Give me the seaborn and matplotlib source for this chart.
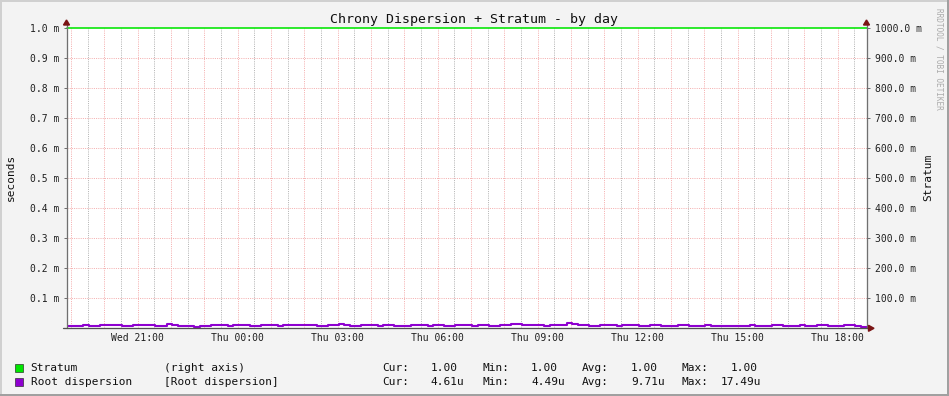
import numpy as np
import pandas as pd
import matplotlib
matplotlib.use("Agg")
import matplotlib.pyplot as plt
import matplotlib.dates as mdates
import seaborn as sns
from matplotlib.lines import Line2D
from matplotlib.patches import Rectangle, Polygon

# ---------------- data ----------------
title = "Chrony Dispersion + Stratum - by day"
start_time = "2024-01-03 18:52"   # a Wednesday
step_minutes = 10

# root dispersion, microseconds, one value per 10 minutes over 24 h
root_dispersion_us = [
    8.1, 6.9, 7.6, 9.8, 7.2, 6.5, 11.2, 9.4, 12.6, 10.1, 8.3, 7.0,
    11.8, 9.6, 12.4, 10.8, 8.7, 7.4, 12.9, 11.5, 9.2, 7.8, 6.1, 4.49,
    9.3, 8.6, 10.7, 12.1, 10.4, 9.0, 11.6, 12.3, 10.2, 8.8, 7.5, 11.4,
    12.0, 9.9, 8.4, 10.6, 11.3, 12.5, 9.7, 10.9, 12.2, 8.2, 7.1, 9.5,
    10.8, 12.7, 11.0, 9.1, 8.0, 10.3, 12.4, 9.8, 8.5, 10.6, 11.9, 9.2,
    7.7, 8.9, 11.5, 12.6, 10.0, 8.6, 10.4, 11.7, 9.3, 8.1, 10.9, 12.2,
    9.6, 8.4, 10.1, 11.8, 9.0, 7.9, 9.4, 10.6, 14.3, 12.8, 10.5, 9.7,
    11.2, 10.0, 8.8, 9.9, 11.4, 10.2, 17.49, 14.6, 12.1, 10.3, 9.1, 8.6,
    11.6, 10.7, 9.4, 8.2, 10.5, 11.8, 9.6, 8.3, 7.4, 10.1, 11.3, 9.0,
    8.1, 7.2, 9.8, 10.6, 8.7, 6.9, 9.3, 10.8, 8.5, 7.6, 6.8, 8.9,
    7.3, 6.4, 8.8, 9.5, 7.7, 6.2, 8.0, 9.7, 10.4, 8.6, 7.9, 9.2,
    10.3, 8.4, 7.1, 9.6, 10.7, 8.9, 7.5, 9.0, 10.2, 9.4, 8.3, 4.61,
]
# stratum, one reading per hour over 24 h
stratum = [1.0, 1.0, 1.0, 1.0, 1.0, 1.0, 1.0, 1.0, 1.0, 1.0, 1.0, 1.0, 1.0,
           1.0, 1.0, 1.0, 1.0, 1.0, 1.0, 1.0, 1.0, 1.0, 1.0, 1.0, 1.0]

left_ticks = [0.0001, 0.0002, 0.0003, 0.0004, 0.0005, 0.0006, 0.0007, 0.0008, 0.0009, 0.001]
right_ticks = [0.1, 0.2, 0.3, 0.4, 0.5, 0.6, 0.7, 0.8, 0.9, 1.0]
x_label_times = ["2024-01-03 21:00", "2024-01-04 00:00", "2024-01-04 03:00", "2024-01-04 06:00",
                 "2024-01-04 09:00", "2024-01-04 12:00", "2024-01-04 15:00", "2024-01-04 18:00"]

legend_rows = [
    ["Stratum", "(right axis)", "Cur:", "1.00", "Min:", "1.00", "Avg:", "1.00", "Max:", "1.00"],
    ["Root dispersion", "[Root dispersion]", "Cur:", "4.61u", "Min:", "4.49u", "Avg:", "9.71u", "Max:", "17.49u"],
]

# ---------------- style ----------------
W, H = 949, 396
sns.set_theme(style="white")
plt.rcParams["font.family"] = ["DejaVu Sans Mono", "DejaVu Sans"]
GREEN = "#00E600"
PURPLE = "#8E00D0"
AXIS = "#707070"
ARROW = "#7A1414"
RED_GRID = "#F4B0B0"
GREY_GRID = "#B4B4B4"
PX = 72 / 100.0


def fx(x):
    return x / W


def fy(y):
    return 1 - y / H


fig = plt.figure(figsize=(W / 100, H / 100), dpi=100, facecolor="#F3F3F3")
L, R, T, B = 66.5, 866.5, 28.3, 328.3
ax = fig.add_axes([fx(L), fy(B), (R - L) / W, (B - T) / H])
ax.set_facecolor("white")

start = pd.Timestamp(start_time)
end = start + pd.Timedelta(hours=24)

n = len(root_dispersion_us)
t_disp = start + pd.to_timedelta(np.arange(n + 1) * step_minutes, unit="min")
disp_vals = list(np.array(root_dispersion_us) * 1e-6) + [root_dispersion_us[-1] * 1e-6]
df_disp = pd.DataFrame({"time": t_disp, "seconds": disp_vals})

t_str = start + pd.to_timedelta(np.arange(len(stratum)), unit="h")
df_str = pd.DataFrame({"time": t_str, "stratum": stratum})

# grid
hours = pd.date_range(start.ceil("h"), end, freq="h")
halves = hours + pd.Timedelta(minutes=30)
gkw = dict(ls=(0, (1, 1.2)), lw=PX, zorder=1)
for t in halves:
    if t < end:
        ax.axvline(t, color=GREY_GRID, **gkw)
for t in hours:
    ax.axvline(t, color=RED_GRID, **gkw)
for v in left_ticks[:-1]:
    ax.axhline(v, color=RED_GRID, **gkw)

sns.lineplot(data=df_disp, x="time", y="seconds", ax=ax, color=PURPLE, lw=1.5,
             drawstyle="steps-post", estimator=None, zorder=5)
ax.set_xlim(start, end)
ax.set_ylim(0, 0.001)
ax.set_yticks(left_ticks)
ax.set_yticklabels([f"{v * 1000:.1f} m" for v in left_ticks])
ax.set_xticks([pd.Timestamp(s) for s in x_label_times])
ax.xaxis.set_major_formatter(mdates.DateFormatter("%a %H:%M"))
ax.set_xlabel("")
ax.set_ylabel("")
ax.tick_params(axis="y", length=3 * PX, width=PX, color=AXIS, pad=4 * PX, labelsize=7,
               labelcolor="#202020", left=True)
ax.tick_params(axis="x", length=0, pad=5 * PX, labelsize=7, labelcolor="#202020")
for s in ax.spines.values():
    s.set_visible(False)

ax2 = ax.twinx()
sns.lineplot(data=df_str, x="time", y="stratum", ax=ax2, color=GREEN, lw=1.6 * PX,
             estimator=None, zorder=6, clip_on=False)
ax2.set_ylim(0, 1)
ax2.set_xlim(start, end)
ax2.set_yticks(right_ticks)
ax2.set_yticklabels([f"{v * 1000:.1f} m" for v in right_ticks])
ax2.set_ylabel("")
ax2.tick_params(axis="y", length=3 * PX, width=PX, color=AXIS, pad=5 * PX, labelsize=7,
                labelcolor="#202020", right=True)
for s in ax2.spines.values():
    s.set_visible(False)

# axis lines and arrows (figure pixel coords)
def fline(x0, y0, x1, y1, **kw):
    fig.add_artist(Line2D([fx(x0), fx(x1)], [fy(y0), fy(y1)], transform=fig.transFigure, **kw))


fline(L, B, L, 21, color=AXIS, lw=1.3 * PX, zorder=10)
fline(R, B, R, 21, color=AXIS, lw=1.3 * PX, zorder=10)
fline(62.5, B, 870, B, color="#505050", lw=1.3 * PX, zorder=10)
for xa in (L, R):
    fig.add_artist(Polygon([(fx(xa - 3), fy(25)), (fx(xa + 3), fy(25)), (fx(xa), fy(20))],
                           closed=True, transform=fig.transFigure, color=ARROW, zorder=11))
fig.add_artist(Polygon([(fx(868.5), fy(B - 3)), (fx(868.5), fy(B + 3)), (fx(874), fy(B))],
                       closed=True, transform=fig.transFigure, color=ARROW, zorder=11))

# texts
fig.text(fx(473.7), fy(19.5), title, ha="center", va="center", size=9.5, color="#101010")
fig.text(fx(11), fy(177), "seconds", rotation=90, ha="center", va="center", size=8, color="#101010")
fig.text(fx(928), fy(177), "Stratum", rotation=90, ha="center", va="center", size=8, color="#101010")
fig.text(fx(939.5), fy(59), "RRDTOOL / TOBI OETIKER", rotation=270, ha="center", va="center",
         size=5.6, color="#ABABAB")

# legend
row_y = [368.3, 381.8]
col_x = [30.7, 164, 382, 430.7, 482.3, 531, 581.7, 631, 681.7, 731]
colors = [GREEN, PURPLE]
for r, (row, yy, c) in enumerate(zip(legend_rows, row_y, colors)):
    fig.add_artist(Rectangle((fx(15.5), fy(yy + 4)), 8 / W, 8 / H, transform=fig.transFigure,
                             facecolor=c, edgecolor="#202020", lw=0.6 * PX))
    for j, txt in enumerate(row):
        x = col_x[j]
        if j == 9 and r == 1:
            x = 720.3
        fig.text(fx(x), fy(yy), txt, ha="left", va="center", size=8, color="#101010")

# frame
fig.add_artist(Rectangle((0, fy(2)), 1, 2 / H, transform=fig.transFigure, color="#D0D0D0", lw=0))
fig.add_artist(Rectangle((0, 0), 2 / W, 1, transform=fig.transFigure, color="#D0D0D0", lw=0))
fig.add_artist(Rectangle((0, 0), 1, 2 / H, transform=fig.transFigure, color="#A0A0A0", lw=0))
fig.add_artist(Rectangle((fx(947), 0), 2 / W, 1, transform=fig.transFigure, color="#A0A0A0", lw=0))

fig.savefig("out.png", dpi=100, facecolor=fig.get_facecolor())
